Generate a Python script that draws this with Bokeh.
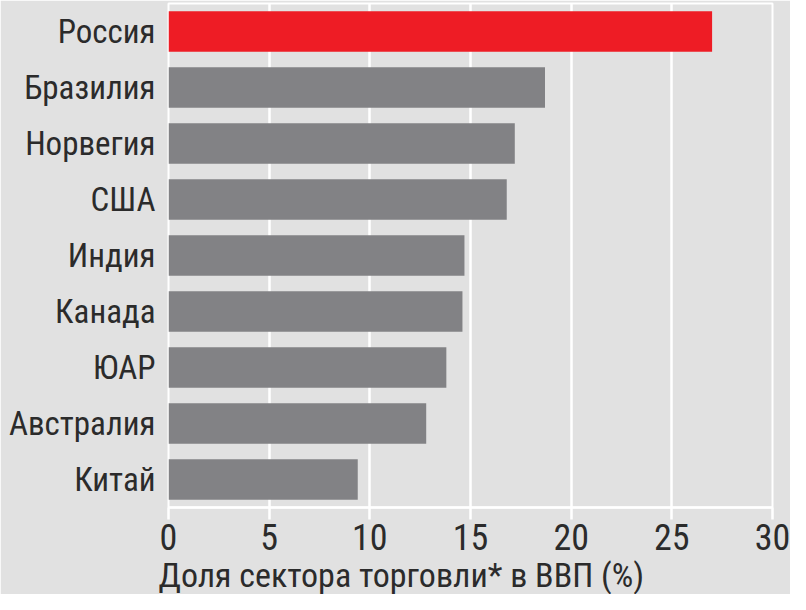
from bokeh.plotting import figure
from bokeh.models import ColumnDataSource, FactorRange, Range1d, FixedTicker, Title
from bokeh.embed import file_html
from bokeh.resources import INLINE

countries = ["Россия", "Бразилия", "Норвегия", "США", "Индия", "Канада", "ЮАР", "Австралия", "Китай"]
shares = [27.0, 18.7, 17.2, 16.8, 14.7, 14.6, 13.8, 12.8, 9.4]
colors = ["#ee1c25"] + ["#828285"] * 8
x_ticks = [0, 5, 10, 15, 20, 25, 30]
x_title = "Доля сектора торговли* в ВВП (%)"

FONT = "Roboto Condensed"
BG = "#e1e1e1"
TXT = "#2b2b2b"

src = ColumnDataSource(dict(country=countries, share=shares, color=colors))

p = figure(
    width=790, height=594,
    y_range=FactorRange(factors=list(reversed(countries)), range_padding=0),
    x_range=Range1d(0, 30),
    output_backend="svg", toolbar_location=None,
    min_border_top=3, min_border_left=168, min_border_right=18, min_border_bottom=4,
)
p.background_fill_color = BG
p.border_fill_color = BG
p.outline_line_color = "white"
p.outline_line_width = 2

p.hbar(y="country", right="share", left=0, height=0.72, color="color", source=src, line_color=None)

p.ygrid.grid_line_color = None
p.xgrid.grid_line_color = "white"
p.xgrid.grid_line_width = 2.5
p.xaxis.ticker = FixedTicker(ticks=x_ticks)

p.yaxis.axis_line_color = None
p.yaxis.major_tick_line_color = None
p.yaxis.minor_tick_line_color = None
p.yaxis.major_label_text_font = FONT
p.yaxis.major_label_text_font_size = "33px"
p.yaxis.major_label_text_color = TXT
p.yaxis.major_label_standoff = 7

p.xaxis.axis_line_color = "white"
p.xaxis.axis_line_width = 2.5
p.xaxis.major_tick_line_color = "white"
p.xaxis.major_tick_line_width = 2.5
p.xaxis.major_tick_out = 12
p.xaxis.major_tick_in = 0
p.xaxis.minor_tick_line_color = None
p.xaxis.major_label_text_font = FONT
p.xaxis.major_label_text_font_size = "36px"
p.xaxis.major_label_text_color = TXT
p.xaxis.major_label_standoff = 4

t = Title(text=x_title, align="left", offset=-10,
          text_font=FONT, text_font_size="34px", text_font_style="normal",
          text_color=TXT, standoff=0)
p.add_layout(t, "below")

open("out.html", "w").write(file_html(p, INLINE))
